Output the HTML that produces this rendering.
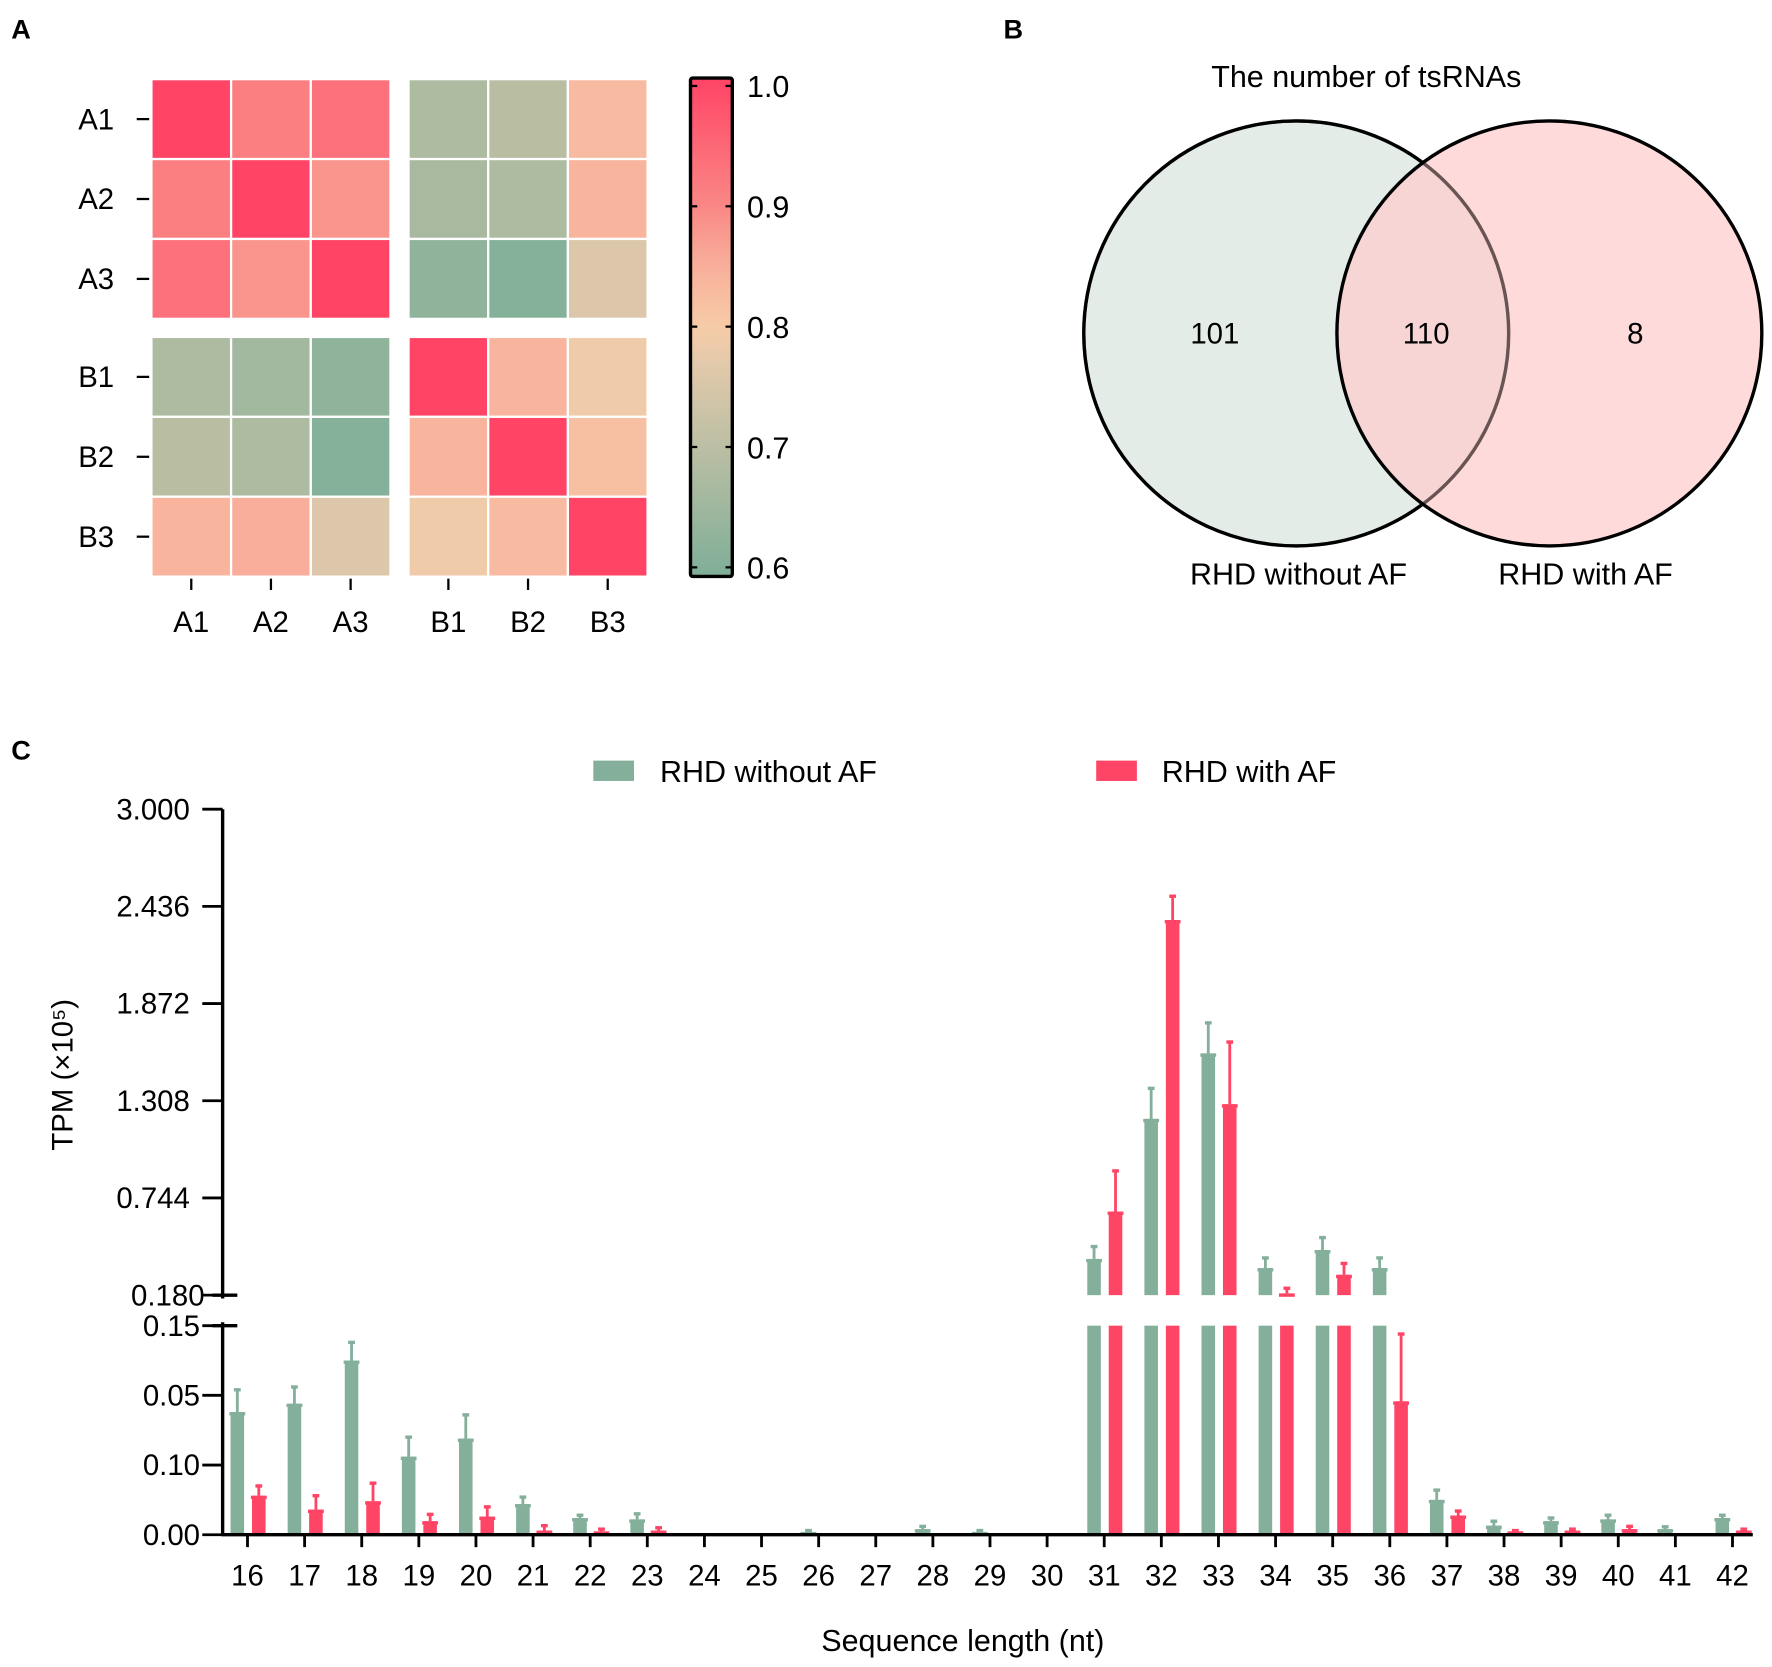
<!DOCTYPE html>
<html><head><meta charset="utf-8"><style>
html,body{margin:0;padding:0;background:#fff;}
svg{display:block;font-family:"Liberation Sans",Arial,sans-serif;}
</style></head><body>
<svg id="fig" width="1772" height="1667" viewBox="0 0 1568 1475" xmlns="http://www.w3.org/2000/svg">
<text x="10" y="34" font-size="24" font-weight="bold">A</text>
<text x="888" y="34" font-size="24" font-weight="bold">B</text>
<text x="10" y="672" font-size="24" font-weight="bold">C</text>
<g id="heat"></g>
<g id="venn">
<text x="1209" y="77" font-size="27" text-anchor="middle">The number of tsRNAs</text>
<circle cx="1147" cy="295" r="188" fill="#e3ece6" stroke="#000" stroke-width="3"/>
<circle cx="1371" cy="295" r="188" fill="rgba(253,205,205,0.75)" stroke="#000" stroke-width="3"/>
<circle cx="1147" cy="295" r="188" fill="none" stroke="rgba(0,0,0,0.45)" stroke-width="3"/>
<text x="1075" y="304" font-size="26" text-anchor="middle">101</text>
<text x="1262" y="304" font-size="26" text-anchor="middle">110</text>
<text x="1447" y="304" font-size="26" text-anchor="middle">8</text>
<text x="1149" y="517" font-size="27" text-anchor="middle">RHD without AF</text>
<text x="1403" y="517" font-size="27" text-anchor="middle">RHD with AF</text>
</g>
<g id="bars"></g>
</svg>
<script>
// ---- Heatmap data ----
const heatLabels = ['A1','A2','A3','B1','B2','B3'];
const heatRowA1 = [1.0,0.91,0.93,0.68,0.70,0.83];
const heatRowA2 = [0.91,1.0,0.88,0.67,0.68,0.84];
const heatRowA3 = [0.93,0.88,1.0,0.63,0.61,0.76];
const heatRowB1 = [0.68,0.66,0.63,1.0,0.84,0.79];
const heatRowB2 = [0.70,0.68,0.61,0.84,1.0,0.82];
const heatRowB3 = [0.84,0.85,0.76,0.79,0.83,1.0];
const heatRows = [heatRowA1,heatRowA2,heatRowA3,heatRowB1,heatRowB2,heatRowB3];
const cbTicks = [0.6,0.7,0.8,0.9,1.0];

// ---- Bar chart data ----
const categories = [16,17,18,19,20,21,22,23,24,25,26,27,28,29,30,31,32,33,34,35,36,37,38,39,40,41,42];
const withoutAF = [0.088,0.094,0.125,0.056,0.069,0.022,0.012,0.011,0,0,0.002,0,0.004,0.002,0,0.39,1.203,1.583,0.337,0.442,0.337,0.025,0.0065,0.0097,0.011,0.004,0.012];
const withoutAFErr = [0.104,0.106,0.138,0.070,0.086,0.027,0.014,0.015,0,0,0.003,0,0.006,0.003,0,0.462,1.38,1.76,0.396,0.514,0.396,0.032,0.0097,0.012,0.014,0.0057,0.014];
const withAF = [0.028,0.018,0.024,0.0097,0.013,0.003,0.0024,0.003,0,0,0,0,0,0,0,0.665,2.357,1.288,0.19,0.298,0.0957,0.0138,0.0024,0.003,0.004,0,0.003];
const withAFErr = [0.035,0.028,0.037,0.0146,0.020,0.0065,0.004,0.005,0,0,0,0,0,0,0,0.901,2.495,1.649,0.22,0.364,0.144,0.017,0.003,0.004,0.006,0,0.004];
const upperTicks = [3.000,2.436,1.872,1.308,0.744,0.180];
const upperTickLabels = ['3.000','2.436','1.872','1.308','0.744','0.180'];
const lowerTicks = [0.15,0.10,0.05,0.0];
const lowerTickLabels = ['0.15','0.05','0.10','0.00'];

const NS='http://www.w3.org/2000/svg';
function mk(tag, attrs, parent){const e=document.createElementNS(NS,tag);for(const k in attrs)e.setAttribute(k,attrs[k]);parent.appendChild(e);return e;}

const cmStops=[[0.6,[127,174,152]],[0.7,[185,190,163]],[0.77,[226,201,171]],[0.8,[247,204,168]],[0.85,[248,174,154]],[0.9,[250,133,132]],[1.0,[255,68,102]]];
function cmap(v){v=Math.max(0.6,Math.min(1,v));for(let i=0;i<cmStops.length-1;i++){const a=cmStops[i],b=cmStops[i+1];if(v<=b[0]){const t=(v-a[0])/(b[0]-a[0]);const c=a[1].map((x,j)=>Math.round(x+(b[1][j]-x)*t));return 'rgb('+c.join(',')+')';}}return 'rgb(255,68,102)';}

const heat=document.getElementById('heat');
const cellW=70.5, cellH=70.7;
function colX(i){return 134+i*cellW+(i>=3?16:0);}
function rowY(i){return 70+i*cellH+(i>=3?16:0);}
heatRows.forEach((row,r)=>{
  row.forEach((v,c)=>{
    const rc=mk('rect',{x:colX(c),y:rowY(r),width:cellW,height:cellH,fill:cmap(v),stroke:'#fff','stroke-width':2},heat);
    
    
  });
});
heatLabels.forEach((l,i)=>{
  const cy=rowY(i)+cellH/2;
  const t=mk('text',{x:101,y:cy+9,'font-size':26,'text-anchor':'end'},heat);t.textContent=l;
  
  
  mk('line',{x1:121,x2:132,y1:cy,y2:cy,stroke:'#000','stroke-width':2},heat);
  const cx=colX(i)+cellW/2;
  mk('line',{x1:cx,x2:cx,y1:512,y2:522,stroke:'#000','stroke-width':2},heat);
  const t2=mk('text',{x:cx,y:559,'font-size':26,'text-anchor':'middle'},heat);t2.textContent=l;
  
  
});
const defs=mk('defs',{},heat);
const grad=mk('linearGradient',{id:'cbg',x1:0,y1:1,x2:0,y2:0},defs);
cmStops.forEach(s=>mk('stop',{offset:((s[0]-0.6)/0.4),'stop-color':'rgb('+s[1].join(',')+')'},grad));
const cb=mk('rect',{x:611,y:69,width:37,height:441,fill:'url(#cbg)',stroke:'#000','stroke-width':3,rx:2},heat);


function cbY(v){return 502-(v-0.6)/0.4*(502-76);}
cbTicks.forEach(v=>{
  const y=cbY(v);
  mk('line',{x1:611,x2:617,y1:y,y2:y,stroke:'#000','stroke-width':2},heat);
  mk('line',{x1:642,x2:648,y1:y,y2:y,stroke:'#000','stroke-width':2},heat);
  const t=mk('text',{x:661,y:y+10,'font-size':27},heat);t.textContent=v.toFixed(1);
  
  
});

// ---- bar chart ----
const g=document.getElementById('bars');
const GREEN='#84b09b', RED='#ff4566';
function xPos(c){return 219+(c-16)*50.54;}
const upTop=716, upBot=1146, loTop=1173, loBot=1358;
function yUp(v){return upBot-(v-0.18)/(3.0-0.18)*(upBot-upTop);}
function yLo(v){return loBot-v/0.15*(loBot-loTop);}
function yVal(v){return v<=0.15?yLo(v):(v<0.18?yUp(0.18):yUp(v));}
function drawBar(cx,v,e,color,name){
  if(v<=0)return;
  const w=12;
  if(v<=0.15){
    const r=mk('rect',{x:cx-w/2,y:yLo(v),width:w,height:loBot-yLo(v),fill:color},g);
    
    
  } else {
    const r1=mk('rect',{x:cx-w/2,y:loTop,width:w,height:loBot-loTop,fill:color},g);
    
    
    const yt=yVal(v);
    const r2=mk('rect',{x:cx-w/2,y:yt,width:w,height:upBot-yt,fill:color},g);
    
    
  }
  const yt=yVal(v), ye=yVal(e);
  mk('rect',{x:cx-w/2-1,y:yt,width:w+2,height:3,fill:color},g);
  if(e>v){
    mk('line',{x1:cx,x2:cx,y1:yt,y2:ye,stroke:color,'stroke-width':2.5},g);
    mk('line',{x1:cx-3,x2:cx+3,y1:ye,y2:ye,stroke:color,'stroke-width':3},g);
  }
}
categories.forEach((c,i)=>{
  const x=xPos(c);
  drawBar(x-9,withoutAF[i],withoutAFErr[i],GREEN,'bar-without-af-'+c);
  drawBar(x+10,withAF[i],withAFErr[i],RED,'bar-with-af-'+c);
  mk('line',{x1:x,x2:x,y1:loBot,y2:loBot+11,stroke:'#000','stroke-width':2.5},g);
  const t=mk('text',{x:x,y:1403,'font-size':26,'text-anchor':'middle'},g);t.textContent=c;
  
  
});
const ax1=mk('line',{x1:197,x2:197,y1:upTop,y2:upBot+3,stroke:'#000','stroke-width':3},g);


const ax2=mk('line',{x1:197,x2:197,y1:loTop-3,y2:loBot,stroke:'#000','stroke-width':3},g);


const ax3=mk('line',{x1:196,x2:1551,y1:loBot,y2:loBot,stroke:'#000','stroke-width':3},g);


mk('line',{x1:188,x2:210,y1:upBot,y2:upBot,stroke:'#000','stroke-width':3},g);
mk('line',{x1:188,x2:210,y1:loTop,y2:loTop,stroke:'#000','stroke-width':3},g);
upperTicks.forEach((v,i)=>{
  const y=yUp(v);
  mk('line',{x1:179,x2:197,y1:y,y2:y,stroke:'#000','stroke-width':2.5},g);
  const t=mk('text',{x:[168,168,168,168,168,181][i],y:y+9,'font-size':26,'text-anchor':'end'},g);t.textContent=upperTickLabels[i];
  
  
});
lowerTicks.forEach((v,i)=>{
  const y=yLo(v);
  mk('line',{x1:179,x2:197,y1:y,y2:y,stroke:'#000','stroke-width':2.5},g);
  const t=mk('text',{x:177,y:y+9,'font-size':26,'text-anchor':'end'},g);t.textContent=lowerTickLabels[i];
  
  
});
const yt=mk('text',{x:0,y:0,'font-size':26,'text-anchor':'middle',transform:'translate(64,951) rotate(-90)'},g);
yt.textContent='TPM (×10⁵)';


const xt=mk('text',{x:852,y:1461,'font-size':27,'text-anchor':'middle'},g);
xt.textContent='Sequence length (nt)';


const l1=mk('rect',{x:525,y:673,width:36,height:18,fill:GREEN},g);


const lt1=mk('text',{x:584,y:692,'font-size':27},g);lt1.textContent='RHD without AF';


const l2=mk('rect',{x:970,y:673,width:36,height:18,fill:RED},g);


const lt2=mk('text',{x:1028,y:692,'font-size':27},g);lt2.textContent='RHD with AF';


</script>
</body></html>
